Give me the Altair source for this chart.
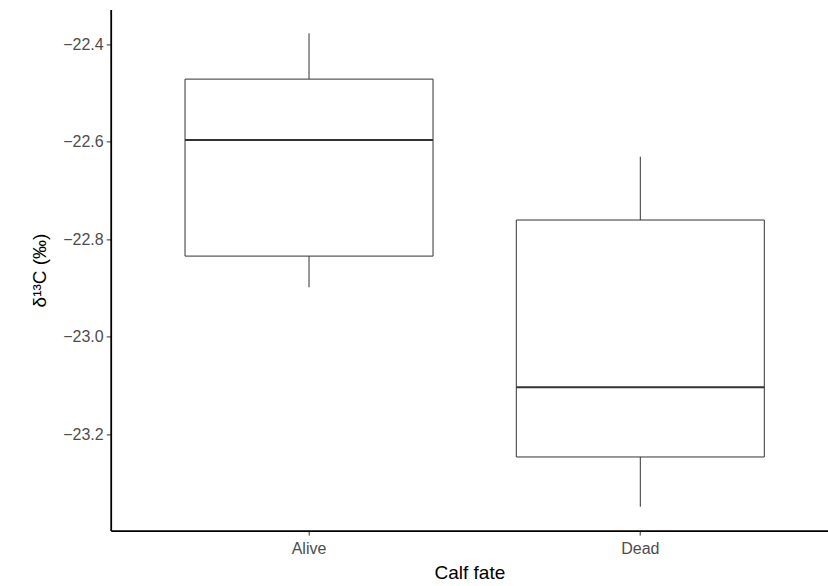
import altair as alt
import pandas as pd

categories = ["Alive", "Dead"]
lower_whisker = [-22.899, -23.349]
q1 = [-22.835, -23.247]
median = [-22.597, -23.104]
q3 = [-22.472, -22.761]
upper_whisker = [-22.378, -22.631]
y_ticks = [-23.2, -23.0, -22.8, -22.6, -22.4]

df = pd.DataFrame({
    "fate": categories,
    "lo": lower_whisker,
    "q1": q1,
    "med": median,
    "q3": q3,
    "hi": upper_whisker,
})

FONT = "Liberation Sans"
LINE = "#333333"

x = alt.X(
    "fate:N",
    sort=categories,
    scale=alt.Scale(type="band", paddingInner=0, paddingOuter=0.0826, align=0.597),
    axis=alt.Axis(title="Calf fate", labelAngle=0),
)
yscale = alt.Scale(domain=[-23.398, -22.329], nice=False, zero=False)
yaxis = alt.Axis(title="δ¹³C (‰)", values=y_ticks, format=".1f")

base = alt.Chart(df)

upper = base.mark_rule(color=LINE, strokeWidth=1).encode(
    x=x, y=alt.Y("q3:Q", scale=yscale, axis=yaxis), y2="hi:Q"
)
lower = base.mark_rule(color=LINE, strokeWidth=1).encode(
    x=x, y=alt.Y("lo:Q", scale=yscale), y2="q1:Q"
)
box = base.mark_bar(size=248, fill="white", stroke=LINE, strokeWidth=1).encode(
    x=x, y=alt.Y("q1:Q", scale=yscale), y2="q3:Q"
)
med = base.mark_tick(size=248, thickness=2, color=LINE, opacity=1).encode(
    x=x, y=alt.Y("med:Q", scale=yscale)
)

chart = (
    alt.layer(upper, lower, box, med)
    .properties(
        width=717.3,
        height=521.2,
        autosize=alt.AutoSizeParams(type="none"),
        padding={"left": 110.7, "top": 9.4, "right": 0, "bottom": 55.4},
        background="white",
    )
    .configure_view(stroke=None)
    .configure_axis(
        grid=False,
        domainColor="black",
        domainWidth=1.8,
        tickColor="#333333",
        tickWidth=1,
        tickSize=4.5,
        labelFont=FONT,
        labelFontSize=16,
        labelColor="#4D4D4D",
        labelPadding=3,
        titleFont=FONT,
        titleFontSize=19,
        titleFontWeight="normal",
        titleColor="black",
    )
    .configure_axisY(titlePadding=13)
    .configure_axisX(titlePadding=7, labelPadding=5)
)

chart.save("out.html", embed_options={"renderer": "svg", "actions": False})
